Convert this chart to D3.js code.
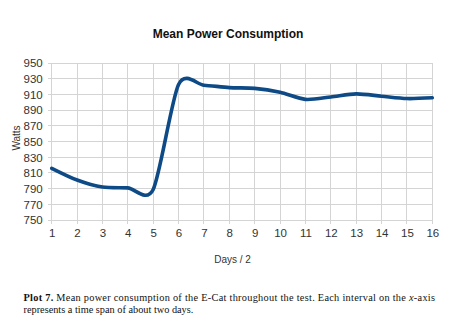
<!DOCTYPE html>
<html><head><meta charset="utf-8">
<script src="https://cdn.jsdelivr.net/npm/d3@7"></script>
<style>body{margin:0;background:#fff}svg{display:block}</style>
</head><body>
<svg id="c" width="450" height="328"></svg>
<script>
const days = [1,2,3,4,5,6,7,8,9,10,11,12,13,14,15,16];
const watts = [816,801,792,791,789,923,922,919,918,913,904,907,911,908,905,906];
const yTicks = [750,770,790,810,830,850,870,890,910,930,950];
const title = "Mean Power Consumption";
const xLabel = "Days / 2";
const yLabel = "Watts";

const svg = d3.select("#c");
const m = {l:51.7, r:432.3, t:63.3, b:220};
const x = d3.scaleLinear().domain([1,16]).range([m.l,m.r]);
const y = d3.scaleLinear().domain([750,950]).range([m.b,m.t]);

const g = svg.append("g");
g.selectAll("line.h").data(yTicks).join("line")
  .attr("x1",m.l-4).attr("x2",m.r).attr("y1",d=>y(d)).attr("y2",d=>y(d))
  .attr("stroke","#d4d4d4").attr("stroke-width",1).attr("shape-rendering","crispEdges");
g.selectAll("line.v").data(days).join("line")
  .attr("x1",d=>x(d)).attr("x2",d=>x(d)).attr("y1",m.t).attr("y2",m.b+4)
  .attr("stroke","#d4d4d4").attr("stroke-width",1).attr("shape-rendering","crispEdges");

const xAxis = svg.append("g").attr("transform",`translate(0,${m.b})`)
  .call(d3.axisBottom(x).tickValues(days).tickFormat(d3.format("d")).tickSize(0).tickPadding(9));
const yAxis = svg.append("g").attr("transform",`translate(${m.l},0)`)
  .call(d3.axisLeft(y).tickValues(yTicks).tickSize(0).tickPadding(9));
[xAxis,yAxis].forEach(a=>{
  a.select(".domain").remove();
  a.selectAll("text").attr("font-family","Liberation Sans, Arial, sans-serif").attr("font-size",11.5).attr("fill","#333");
});

const line = d3.line().x((d,i)=>x(days[i])).y(d=>y(d)).curve(d3.curveCardinal.tension(0.2));
svg.append("path").datum(watts).attr("d",line).attr("fill","none")
  .attr("stroke","#0d4a86").attr("stroke-width",3.6).attr("stroke-linejoin","round").attr("stroke-linecap","round");

svg.append("text").attr("x",228).attr("y",38).attr("text-anchor","middle")
  .attr("font-family","Liberation Sans, Arial, sans-serif").attr("font-weight","bold").attr("font-size",12).attr("fill","#111").text(title);
svg.append("text").attr("x",232.5).attr("y",263).attr("text-anchor","middle")
  .attr("font-family","Liberation Sans, Arial, sans-serif").attr("font-size",10).attr("fill","#333").text(xLabel);
svg.append("text").attr("transform","translate(20,138) rotate(-90)").attr("text-anchor","middle")
  .attr("font-family","Liberation Sans, Arial, sans-serif").attr("font-size",10).attr("fill","#333").text(yLabel);

const cap = svg.append("g").attr("font-family","Liberation Serif, Times New Roman, serif").attr("font-size",10.3).attr("fill","#111");
const t1 = cap.append("text").attr("x",23.5).attr("y",300.5).attr("textLength",411.5).attr("lengthAdjust","spacing");
t1.append("tspan").attr("font-weight","bold").text("Plot 7.");
t1.append("tspan").text(" Mean power consumption of the E-Cat throughout the test. Each interval on the ");
t1.append("tspan").attr("font-style","italic").text("x");
t1.append("tspan").text("-axis");
cap.append("text").attr("x",23.5).attr("y",313).text("represents a time span of about two days.");
</script>
</body></html>
